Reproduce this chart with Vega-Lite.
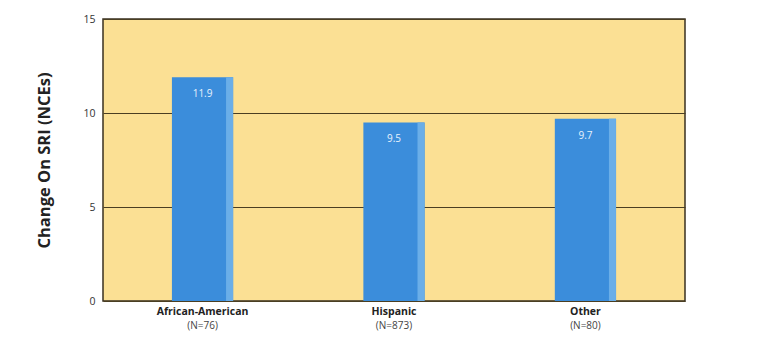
{
  "$schema": "https://vega.github.io/schema/vega-lite/v6.json",
  "width": 582,
  "height": 282,
  "autosize": {"type": "none"},
  "padding": {"left": 103, "top": 19, "right": 86, "bottom": 40},
  "background": "white",
  "config": {
    "view": {"fill": "#fbe094", "stroke": "#3a3020", "strokeWidth": 1.5},
    "font": "Open Sans"
  },
  "data": {
    "values": [
      {"group": "African-American", "value": 11.9, "label": "11.9"},
      {"group": "Hispanic", "value": 9.5, "label": "9.5"},
      {"group": "Other", "value": 9.7, "label": "9.7"}
    ]
  },
  "encoding": {
    "y": {"field": "value", "type": "quantitative",
      "scale": {"domain": [0, 15], "nice": false},
      "axis": {"title": "Change On SRI (NCEs)", "values": [0, 5, 10, 15],
        "ticks": false, "domain": false, "labelFontSize": 10.5,
        "labelColor": "#333", "labelPadding": 8,
        "titleFontSize": 16.5, "titleFontWeight": "bold", "titleColor": "#222",
        "titlePadding": 30,
        "grid": true, "gridColor": "#4a3e22", "gridWidth": 1.2}}
  },
  "layer": [
    {
      "mark": {"type": "bar", "color": "#3b8ddb"},
      "encoding": {
        "x": {"field": "group", "type": "nominal", "sort": null,
          "scale": {"paddingInner": 0.68, "paddingOuter": 0.36},
          "axis": {"title": null, "orient": "bottom", "ticks": false, "domain": false,
            "labelAngle": 0, "labelFont": "Open Sans", "labelFontWeight": "bold",
            "labelFontSize": 10.5, "labelColor": "#222", "labelPadding": 5}}
      }
    },
    {
      "mark": {"type": "bar", "color": "#6aaee8", "width": 7, "xOffset": 27},
      "encoding": {
        "x": {"field": "group", "type": "nominal", "sort": null,
          "axis": {"title": null, "orient": "bottom", "ticks": false, "domain": false,
            "labelAngle": 0, "labelFontSize": 10, "labelColor": "#444", "labelPadding": 19,
            "labelExpr": "datum.value == 'African-American' ? '(N=76)' : datum.value == 'Hispanic' ? '(N=873)' : '(N=80)'"}}
      }
    },
    {
      "mark": {"type": "text", "color": "#e8f2fc", "baseline": "top", "dy": 12, "fontSize": 10},
      "encoding": {
        "x": {"field": "group", "type": "nominal", "sort": null, "axis": null},
        "text": {"field": "label"}
      }
    }
  ],
  "resolve": {"axis": {"x": "independent"}}
}
